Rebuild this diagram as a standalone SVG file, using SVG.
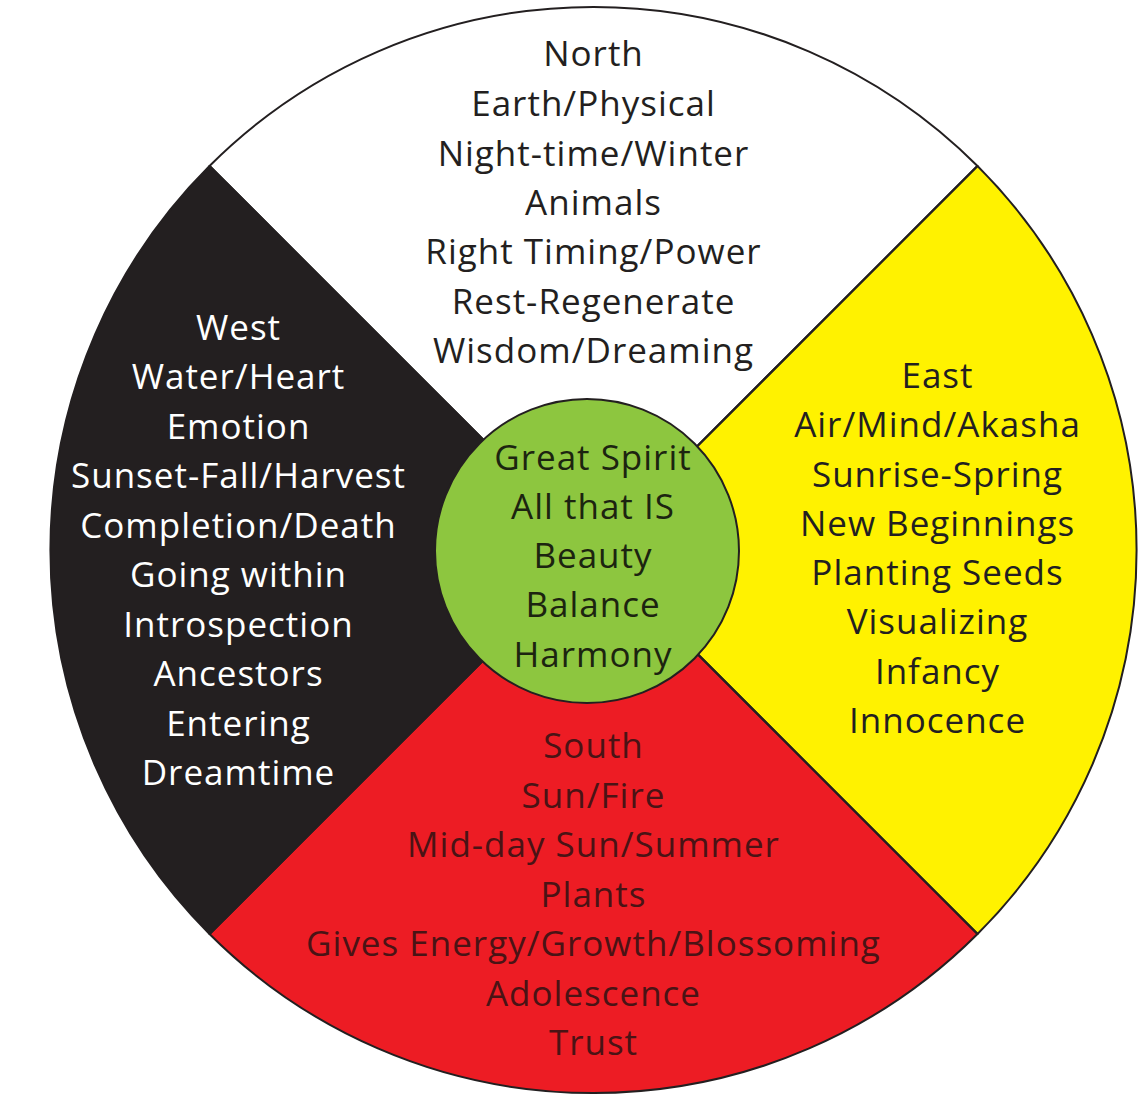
<svg xmlns="http://www.w3.org/2000/svg" width="1141" height="1103" viewBox="0 0 1141 1103">
<style>
.t{font-family:"Open Sans","Noto Sans","Liberation Sans",sans-serif;font-size:35px;letter-spacing:1px;text-anchor:middle}
.dk{fill:#231f20}
.wh{fill:#ffffff}
.rd{fill:#4a1315}
.gr{fill:#1c2410}
.edge{stroke:#231f20;stroke-width:2;stroke-linejoin:round}
</style>
<rect width="1141" height="1103" fill="#ffffff"/>
<g id="north">
<path class="edge" d="M593.5 550 L209.5 166 A543 543 0 0 1 977.5 166 Z" fill="#ffffff"/>
<text class="t dk" x="593.5" y="66">North</text>
<text class="t dk" x="593.5" y="116">Earth/Physical</text>
<text class="t dk" x="593.5" y="166">Night-time/Winter</text>
<text class="t dk" x="593.5" y="215">Animals</text>
<text class="t dk" x="593.5" y="264">Right Timing/Power</text>
<text class="t dk" x="593.5" y="314">Rest-Regenerate</text>
<text class="t dk" x="593.5" y="363">Wisdom/Dreaming</text>
</g>
<g id="east">
<path class="edge" d="M593.5 550 L977.5 166 A543 543 0 0 1 977.5 934 Z" fill="#fff200"/>
<text class="t dk" x="937.5" y="388">East</text>
<text class="t dk" x="937.5" y="437">Air/Mind/Akasha</text>
<text class="t dk" x="937.5" y="487">Sunrise-Spring</text>
<text class="t dk" x="937.5" y="536">New Beginnings</text>
<text class="t dk" x="937.5" y="585">Planting Seeds</text>
<text class="t dk" x="937.5" y="634">Visualizing</text>
<text class="t dk" x="937.5" y="684">Infancy</text>
<text class="t dk" x="937.5" y="733">Innocence</text>
</g>
<g id="south">
<path class="edge" d="M593.5 550 L977.5 934 A543 543 0 0 1 209.5 934 Z" fill="#ed1c24"/>
<text class="t rd" x="593.5" y="758">South</text>
<text class="t rd" x="593.5" y="808">Sun/Fire</text>
<text class="t rd" x="593.5" y="857">Mid-day Sun/Summer</text>
<text class="t rd" x="593.5" y="907">Plants</text>
<text class="t rd" x="593.5" y="956">Gives Energy/Growth/Blossoming</text>
<text class="t rd" x="593.5" y="1006">Adolescence</text>
<text class="t rd" x="593.5" y="1055">Trust</text>
</g>
<g id="west">
<path class="edge" d="M593.5 550 L209.5 934 A543 543 0 0 1 209.5 166 Z" fill="#231f20"/>
<text class="t wh" x="238.5" y="340">West</text>
<text class="t wh" x="238.5" y="389">Water/Heart</text>
<text class="t wh" x="238.5" y="439">Emotion</text>
<text class="t wh" x="238.5" y="488">Sunset-Fall/Harvest</text>
<text class="t wh" x="238.5" y="538">Completion/Death</text>
<text class="t wh" x="238.5" y="587">Going within</text>
<text class="t wh" x="238.5" y="637">Introspection</text>
<text class="t wh" x="238.5" y="686">Ancestors</text>
<text class="t wh" x="238.5" y="736">Entering</text>
<text class="t wh" x="238.5" y="785">Dreamtime</text>
</g>
<g id="dividers">
<line class="edge" x1="209.5" y1="166" x2="977.5" y2="934"/>
<line class="edge" x1="977.5" y1="166" x2="209.5" y2="934"/>
</g>
<g id="center">
<circle class="edge" cx="587" cy="551" r="152" fill="#8dc63f"/>
<text class="t gr" x="593" y="470">Great Spirit</text>
<text class="t gr" x="593" y="519">All that IS</text>
<text class="t gr" x="593" y="568">Beauty</text>
<text class="t gr" x="593" y="617">Balance</text>
<text class="t gr" x="593" y="667">Harmony</text>
</g>
</svg>
